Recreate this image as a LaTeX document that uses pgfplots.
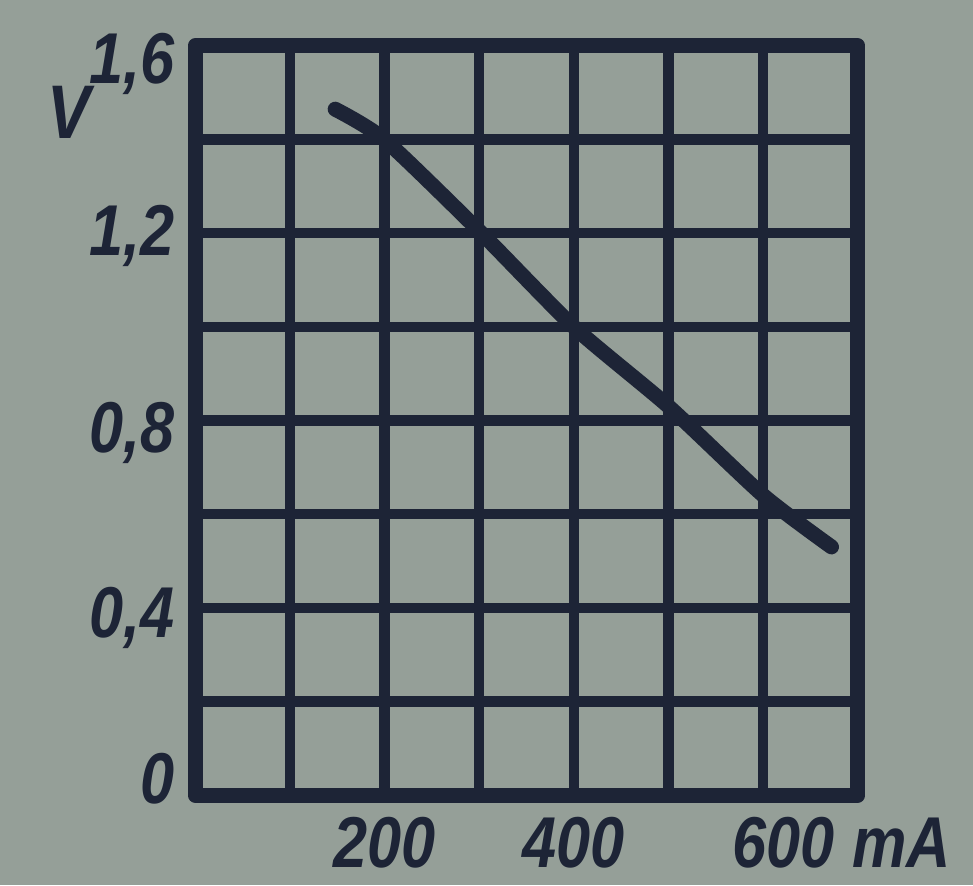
\documentclass[border=0pt]{standalone}
\usepackage{pgfplots}
\pgfplotsset{compat=1.18}
\usepackage{fontspec}
\newfontfamily\lbl[FakeStretch=0.85]{Liberation Sans}
\definecolor{paper}{HTML}{959F98}
\definecolor{ink}{HTML}{1D2436}
% move a label's ink vertically without changing its box
\newcommand\sh[2]{\raisebox{#1}[\height][\depth]{#2}}

\begin{document}
\begin{tikzpicture}
\useasboundingbox (0,0) rectangle (486.5pt,442.5pt);
\clip (0,0) rectangle (486.5pt,442.5pt);
\fill[paper] (0,0) rectangle (486.5pt,442.5pt);
\begin{axis}[
  at={(97.5pt,45pt)}, anchor=south west,
  scale only axis, width=331.5pt, height=374.5pt,
  xmin=0, xmax=700, ymin=0, ymax=1.6,
  xtick={200,400,600},
  xticklabels={200,400,{\kern20pt 600\rlap{\hspace{0.25em}mA}}},
  minor xtick={100,300,500},
  ytick={0,0.4,0.8,1.2,1.6},
  yticklabels={{\sh{8pt}{0}},{\sh{-5pt}{0,4}},{\sh{-6pt}{0,8}},{\sh{-1.5pt}{1,2}},{\sh{-9pt}{1,6}}},
  minor ytick={0.2,0.6,1.0,1.4},
  grid=both,
  major grid style={ink, line width=5.2pt},
  minor grid style={ink, line width=5.2pt},
  axis line style={ink, line width=7.5pt, line join=round},
  tick style={draw=none},
  ticklabel style={font=\lbl\bfseries\itshape\fontsize{36}{36}\selectfont, text=ink},
  xticklabel style={yshift=-7.5pt},
  yticklabel style={xshift=-6.5pt},
  ylabel={V},
  every axis y label/.style={at={(rel axis cs:-0.19,0.912)}, anchor=center,
    font=\lbl\bfseries\itshape\fontsize{38}{38}\selectfont, text=ink},
]
% voltage against current
\addplot[ink, line width=7.5pt, line cap=round, line join=round, smooth, tension=0.4]
  coordinates {(148,1.465) (200,1.40) (300,1.205) (400,1.0) (500,0.83)
               (600,0.64) (672,0.53)};
\end{axis}
\end{tikzpicture}
\end{document}
